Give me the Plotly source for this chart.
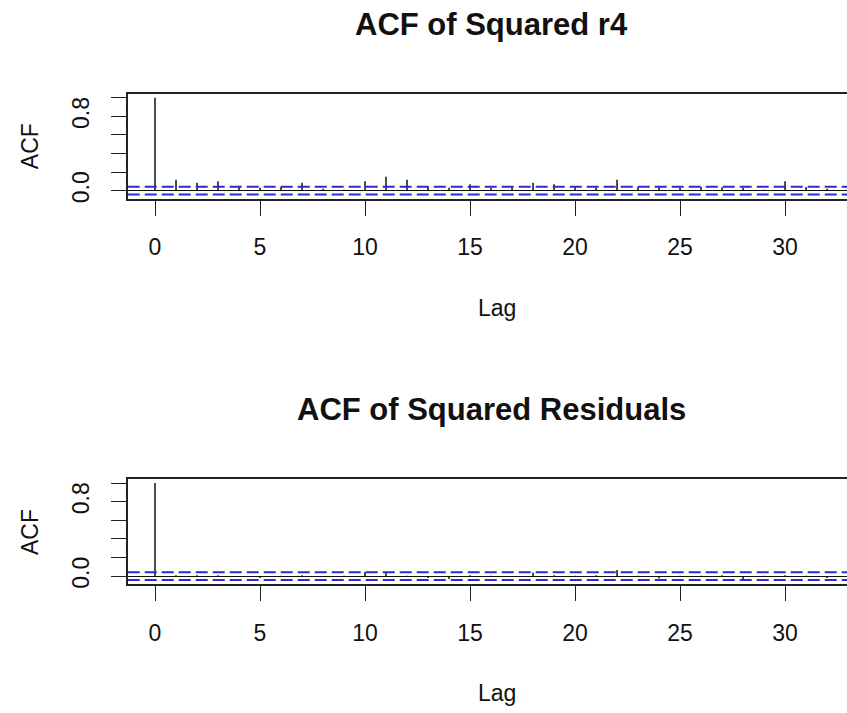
import plotly.graph_objects as go

# ---- data ----
lags = list(range(0, 34))
acf_sq_r4 = [1.0, 0.118, 0.086, 0.10, 0.04, 0.03, 0.04, 0.086, 0.02, 0.01,
             0.10, 0.15, 0.118, 0.045, 0.03, 0.07, 0.03, 0.04, 0.086, 0.07,
             0.04, 0.04, 0.118, 0.04, 0.035, 0.03, 0.04, 0.035, 0.03, 0.01,
             0.10, 0.04, 0.02, 0.03]
acf_sq_resid = [1.0, 0.01, 0.01, 0.01, -0.005, -0.02, 0.005, 0.01, -0.008, 0.005,
                0.045, 0.045, 0.005, -0.02, -0.03, 0.01, 0.004, -0.004, 0.04, 0.01,
                0.003, 0.01, 0.065, 0.004, -0.025, 0.003, 0.004, 0.01, -0.03, 0.004,
                0.01, 0.004, -0.02, 0.005]
clim = 0.042
titles = ["ACF of Squared r4", "ACF of Squared Residuals"]
x_tickvals = [0, 5, 10, 15, 20, 25, 30]
x_ticktext = ["0", "5", "10", "15", "20", "25", "30"]
y_tickvals = [0.0, 0.2, 0.4, 0.6, 0.8, 1.0]
y_ticktext = ["0.0", "", "", "", "0.8", ""]

W, H = 847, 713
ML = 128
FONT = "Arial, Liberation Sans, sans-serif"

def px2x(px):
    return (px - ML) / (W - ML)

def px2y(py):
    return 1 - py / H

panels = [
    dict(vals=acf_sq_r4, top=94.3, bot=200.0, title_y=25, lag_y=310, acf_y=147),
    dict(vals=acf_sq_resid, top=481.7, bot=587.7, title_y=412, lag_y=697, acf_y=535),
]

fig = go.Figure()
layout_axes = {}
annotations = []
for i, p in enumerate(panels):
    n = "" if i == 0 else str(i + 1)
    xs, ys = [], []
    for L, v in zip(lags, p["vals"]):
        xs += [L, L, None]
        ys += [0, v, None]
    fig.add_trace(go.Scatter(x=xs, y=ys, mode="lines",
                             line=dict(color="black", width=1.4),
                             xaxis="x" + n, yaxis="y" + n, showlegend=False,
                             hoverinfo="skip"))
    for c in (clim, -clim):
        fig.add_trace(go.Scatter(x=[-1.3, 34.3], y=[c, c], mode="lines",
                                 line=dict(color="#2a2ad6", width=2, dash="12px,5px"),
                                 xaxis="x" + n, yaxis="y" + n, showlegend=False,
                                 hoverinfo="skip"))
    layout_axes["xaxis" + n] = dict(
        domain=[0, 1], range=[-1.286, 32.95], anchor="y" + n,
        tickvals=x_tickvals, ticktext=x_ticktext, ticks="outside", ticklen=15,
        tickwidth=1.4, tickcolor="#222", showline=True, linecolor="#222",
        linewidth=1.5, mirror=True, showgrid=False, zeroline=False,
        tickfont=dict(size=23, color="#111", family=FONT), ticklabelstandoff=12,
    )
    layout_axes["yaxis" + n] = dict(
        domain=[px2y(p["bot"]), px2y(p["top"])], range=[-0.089, 1.044],
        anchor="x" + n, tickvals=y_tickvals, ticktext=y_ticktext,
        ticks="outside", ticklen=15, tickwidth=1.4, tickcolor="#222",
        showline=True, linecolor="#222", linewidth=1.5, mirror=False,
        showgrid=False, zeroline=True, zerolinecolor="#111", zerolinewidth=1.2,
        tickangle=-90, tickfont=dict(size=23, color="#111", family=FONT),
        ticklabelstandoff=13,
    )
    annotations.append(dict(text="<b>" + titles[i] + "</b>", x=px2x(491), y=px2y(p["title_y"]),
                            xref="paper", yref="paper", showarrow=False,
                            xanchor="center", yanchor="middle",
                            font=dict(size=31, color="#111", family=FONT)))
    annotations.append(dict(text="Lag", x=px2x(497), y=px2y(p["lag_y"]),
                            xref="paper", yref="paper", showarrow=False,
                            xanchor="center", yanchor="middle",
                            font=dict(size=23, color="#111", family=FONT)))
    annotations.append(dict(text="ACF", x=px2x(30), y=px2y(p["acf_y"]),
                            xref="paper", yref="paper", showarrow=False,
                            xanchor="center", yanchor="middle", textangle=-90,
                            font=dict(size=23, color="#111", family=FONT)))

fig.update_layout(
    width=W, height=H, margin=dict(l=ML, r=0, t=0, b=0),
    paper_bgcolor="white", plot_bgcolor="white",
    annotations=annotations, **layout_axes,
)
fig.write_html("out.html")
